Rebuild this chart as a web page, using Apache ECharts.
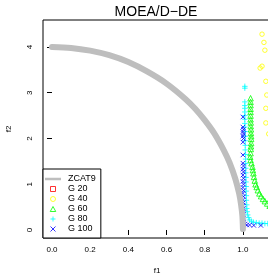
<!DOCTYPE html>
<html>
<head>
<meta charset="utf-8">
<script src="https://cdn.jsdelivr.net/npm/echarts@6/dist/echarts.min.js"></script>
<style>
  html, body { margin: 0; padding: 0; background: #fff; }
  #chart { width: 268px; height: 274px; }
</style>
</head>
<body>
<div id="chart"></div>
<script>
// true front
const frontF1 = [0, 0.1, 0.2, 0.3, 0.4, 0.5, 0.6, 0.7, 0.75, 0.8, 0.85, 0.9, 0.93, 0.96, 0.98, 0.99, 0.997, 1.0];
const frontF2 = [4.0, 3.98, 3.92, 3.82, 3.67, 3.46, 3.2, 2.86, 2.65, 2.4, 2.11, 1.74, 1.47, 1.12, 0.8, 0.56, 0.31, 0.02];

// generations (mostly off to the right for G 20 / G 40)
const g20 = [[1.3, 3.6], [1.35, 3.1], [1.4, 2.6], [1.45, 2.0], [1.5, 1.4]];
const g40 = [[1.1, 4.28], [1.11, 4.1], [1.115, 3.93], [1.09, 3.54], [1.1, 3.58], [1.12, 3.25],
  [1.125, 2.95], [1.12, 2.66], [1.12, 2.34], [1.135, 2.1], [1.16, 1.8], [1.2, 1.4]];
const g60 = [[1.04, 2.88], [1.04, 2.8], [1.04, 2.73], [1.04, 2.65], [1.04, 2.58], [1.04, 2.5],
  [1.04, 2.42], [1.041, 2.35], [1.041, 2.27], [1.042, 2.2], [1.042, 2.12], [1.043, 2.05],
  [1.043, 1.99], [1.043, 1.9], [1.042, 1.83], [1.041, 1.77], [1.04, 1.68], [1.038, 1.6],
  [1.04, 1.53], [1.045, 1.46], [1.05, 1.38], [1.052, 1.31], [1.055, 1.24], [1.058, 1.16],
  [1.062, 1.08], [1.066, 1.0], [1.072, 0.94], [1.078, 0.87], [1.086, 0.8], [1.095, 0.74],
  [1.105, 0.68], [1.115, 0.63], [1.127, 0.58], [1.14, 0.53], [1.16, 0.48], [1.2, 0.42]];
const g80 = [[1.01, 3.14], [1.01, 3.1], [1.01, 2.8], [1.01, 2.72], [1.01, 2.66], [1.01, 2.58],
  [1.01, 2.5], [1.01, 2.42], [1.01, 2.33], [1.01, 2.25], [1.012, 2.15], [1.012, 2.05],
  [1.012, 1.95], [1.012, 1.85], [1.012, 1.75], [1.014, 1.65], [1.014, 1.55], [1.015, 1.45],
  [1.015, 1.35], [1.015, 1.25], [1.016, 1.15], [1.016, 1.05], [1.017, 0.95], [1.017, 0.85],
  [1.018, 0.75], [1.018, 0.65], [1.02, 0.55], [1.02, 0.47], [1.022, 0.4], [1.025, 0.33],
  [1.03, 0.27], [1.035, 0.22], [1.045, 0.19], [1.055, 0.17], [1.07, 0.16], [1.085, 0.15],
  [1.1, 0.15], [1.115, 0.14], [1.13, 0.14], [1.15, 0.13]];
const g100 = [[1.0, 2.47], [1.0, 2.25], [1.003, 2.2], [1.0, 2.15], [1.003, 2.1], [1.0, 2.05],
  [1.003, 2.0], [1.0, 1.92], [1.0, 1.64], [1.0, 1.46], [1.003, 1.4], [1.0, 1.33], [1.003, 1.27],
  [1.0, 1.2], [1.003, 1.13], [1.0, 1.06], [1.003, 1.0], [1.0, 0.93], [1.003, 0.86], [1.0, 0.8],
  [1.003, 0.73], [1.0, 0.66], [1.003, 0.6], [1.0, 0.53], [1.003, 0.47], [1.0, 0.4], [1.003, 0.34],
  [1.0, 0.28], [1.002, 0.22], [1.005, 0.17], [1.01, 0.13], [1.02, 0.11], [1.035, 0.11],
  [1.057, 0.1], [1.094, 0.1]];

const xTicks = [0, 0.2, 0.4, 0.6, 0.8, 1.0];
const yTicks = [0, 1, 2, 3, 4];

// open R-style symbols as paths (keeps aspect in the legend)
const squarePath = 'path://M0,0L10,0L10,10L0,10Z';
const circlePath = 'path://M0,5A5,5,0,1,1,10,5A5,5,0,1,1,0,5Z';
const trianglePath = 'path://M5,0L10,9L0,9Z';
const plusPath = 'path://M5,0L5,10M0,5L10,5';
const crossPath = 'path://M0,0L10,10M10,0L0,10';

function scatter(name, data, symbol, color, size) {
  return {
    name: name,
    type: 'scatter',
    data: data,
    symbol: symbol,
    symbolSize: size,
    itemStyle: { color: 'transparent', borderColor: color, borderWidth: 1 },
    emphasis: { disabled: true }
  };
}

function legendItem(name, color) {
  return { name: name, itemStyle: { color: 'transparent', borderColor: color, borderWidth: 1 } };
}

const chart = echarts.init(document.getElementById('chart'));
chart.setOption({
  animation: false,
  textStyle: { fontFamily: 'Liberation Sans, Arial, sans-serif' },
  title: {
    text: 'MOEA/D\u2212DE',
    left: 156,
    textAlign: 'center',
    top: 5,
    padding: 0,
    textStyle: { fontSize: 14, fontWeight: 'normal', color: '#000' }
  },
  grid: {
    left: 43, right: -3, top: 20, bottom: 36,
    outerBoundsMode: 'none',
    show: true, borderColor: '#000', borderWidth: 1, backgroundColor: 'transparent'
  },
  xAxis: {
    type: 'value',
    min: -0.0471, max: 1.147,
    name: 'f1', nameLocation: 'middle', nameGap: 29,
    nameTextStyle: { fontSize: 8, color: '#000' },
    axisLine: { show: false },
    splitLine: { show: false },
    axisTick: { show: true, length: 5, lineStyle: { color: '#000' }, customValues: xTicks },
    axisLabel: {
      fontSize: 8, color: '#000', margin: 8, customValues: xTicks,
      formatter: v => v.toFixed(1)
    }
  },
  yAxis: {
    type: 'value',
    min: -0.175, max: 4.59,
    name: 'f2', nameLocation: 'middle', nameGap: 30,
    nameTextStyle: { fontSize: 8, color: '#000' },
    axisLine: { show: false },
    splitLine: { show: false },
    axisTick: { show: true, length: 5, lineStyle: { color: '#000' }, customValues: yTicks },
    axisLabel: { fontSize: 8, color: '#000', margin: 9, rotate: 90, customValues: yTicks }
  },
  legend: {
    orient: 'vertical',
    left: 43, top: 169,
    padding: [5, 5, 4, 2],
    itemGap: 0,
    itemWidth: 16, itemHeight: 5,
    backgroundColor: '#fff',
    borderColor: '#000', borderWidth: 1,
    textStyle: { fontSize: 9, color: '#000', lineHeight: 10, height: 10, padding: [0, 0, 0, 2] },
    data: [
      { name: 'ZCAT9', icon: 'path://M0,0L16,0L16,2.5L0,2.5Z', itemStyle: { color: '#BEBEBE', borderWidth: 0 } },
      legendItem('G 20', '#FF0000'),
      legendItem('G 40', '#FFFF00'),
      legendItem('G 60', '#00FF00'),
      legendItem('G 80', '#00FFFF'),
      legendItem('G 100', '#0000FF')
    ]
  },
  series: [
    {
      name: 'ZCAT9',
      type: 'line',
      data: frontF1.map((x, i) => [x, frontF2[i]]),
      showSymbol: false,
      symbol: 'none',
      smooth: 0.3,
      lineStyle: { color: '#BEBEBE', width: 6, cap: 'round', join: 'round' },
      itemStyle: { color: '#BEBEBE' },
      emphasis: { disabled: true }
    },
    scatter('G 20', g20, squarePath, '#FF0000', 4.5),
    scatter('G 40', g40, circlePath, '#FFFF00', 4.5),
    scatter('G 60', g60, trianglePath, '#00FF00', 5.5),
    scatter('G 80', g80, plusPath, '#00FFFF', 5.5),
    scatter('G 100', g100, crossPath, '#0000FF', 4.5)
  ]
});
</script>
</body>
</html>
